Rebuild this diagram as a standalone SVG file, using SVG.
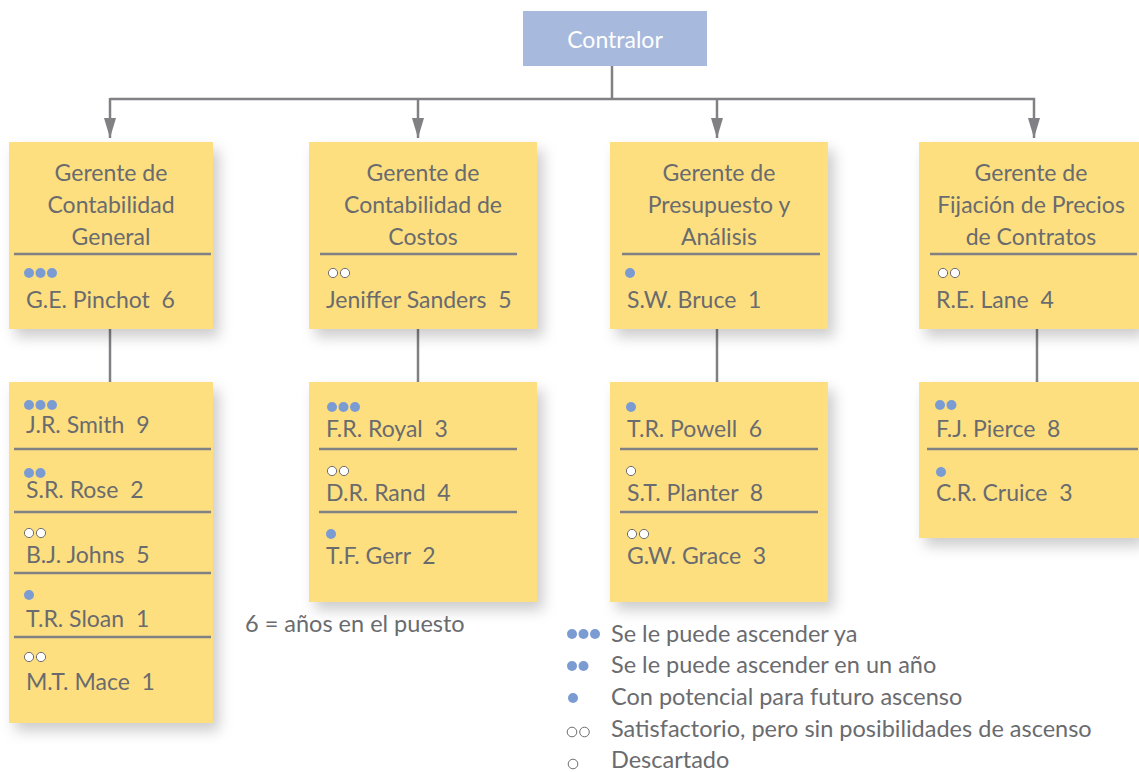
<svg xmlns="http://www.w3.org/2000/svg" width="1139" height="772" viewBox="0 0 1139 772">
<defs>
<filter id="sh" x="-20%" y="-20%" width="150%" height="150%">
<feDropShadow dx="6" dy="8" stdDeviation="7" flood-color="#000" flood-opacity="0.2"/>
</filter>
<marker id="ar" viewBox="0 0 20 12" refX="20" refY="6" markerWidth="20" markerHeight="12" markerUnits="userSpaceOnUse" orient="auto">
<path d="M0,0 L20,6 L0,12 Z" fill="#808085"/>
</marker>
<circle id="b" r="5" fill="#7b9bd3"/>
<circle id="w" r="4.6" fill="#fff" stroke="#6d6e71" stroke-width="1"/>
<circle id="lb" r="5" fill="#7b9bd3"/>
<circle id="lw" r="4.8" fill="#fff" stroke="#6d6e71" stroke-width="1"/>
</defs>
<style>
.box{fill:#fddf80;filter:url(#sh)}
.sep{stroke:#808085;stroke-width:2.5}
.con{stroke:#808085;stroke-width:2.5;fill:none}
.t{font-family:Lato,"Noto Sans",sans-serif;font-size:23px;fill:#6a6b6e;text-anchor:middle}
.n{font-family:Lato,"Noto Sans",sans-serif;font-size:23px;fill:#6a6b6e;white-space:pre}
.lg{font-family:Lato,"Noto Sans",sans-serif;font-size:23.5px;fill:#6a6b6e}
</style>
<rect width="1139" height="772" fill="#fff"/>
<g id="connectors">
<line class="con" x1="612" y1="66" x2="612" y2="99"/>
<line class="con" x1="110" y1="99" x2="1035" y2="99"/>
<line class="con" x1="110" y1="98" x2="110" y2="138" marker-end="url(#ar)"/>
<line class="con" x1="418" y1="98" x2="418" y2="138" marker-end="url(#ar)"/>
<line class="con" x1="717" y1="98" x2="717" y2="138" marker-end="url(#ar)"/>
<line class="con" x1="1034" y1="98" x2="1034" y2="138" marker-end="url(#ar)"/>
<line class="con" x1="110" y1="329" x2="110" y2="382"/>
<line class="con" x1="418" y1="329" x2="418" y2="382"/>
<line class="con" x1="717" y1="329" x2="717" y2="382"/>
<line class="con" x1="1037" y1="329" x2="1037" y2="382"/>
</g>
<g id="contralor">
<rect x="523" y="11" width="184" height="55" fill="#a7b9dd"/>
<text x="615" y="48" font-family="Lato,'Noto Sans',sans-serif" font-size="23" fill="#fff" text-anchor="middle">Contralor</text>
</g>
<g id="m1">
<rect class="box" x="9" y="142" width="204" height="187"/>
<text class="t" x="111" y="181">Gerente de</text>
<text class="t" x="111" y="213">Contabilidad</text>
<text class="t" x="111" y="245">General</text>
<line class="sep" x1="14" y1="254" x2="211" y2="254"/>
<use href="#b" x="29" y="273"/><use href="#b" x="40.5" y="273"/><use href="#b" x="52" y="273"/>
<text class="n" x="26" y="308" xml:space="preserve">G.E. Pinchot  6</text>
</g>
<g id="m2">
<rect class="box" x="309" y="142" width="228" height="187"/>
<text class="t" x="423" y="181">Gerente de</text>
<text class="t" x="423" y="213">Contabilidad de</text>
<text class="t" x="423" y="245">Costos</text>
<line class="sep" x1="320" y1="254" x2="517" y2="254"/>
<use href="#w" x="333" y="273"/><use href="#w" x="345" y="273"/>
<text class="n" x="326" y="308" xml:space="preserve">Jeniffer Sanders  5</text>
</g>
<g id="m3">
<rect class="box" x="610" y="142" width="218" height="187"/>
<text class="t" x="719" y="181">Gerente de</text>
<text class="t" x="719" y="213">Presupuesto y</text>
<text class="t" x="719" y="245">Análisis</text>
<line class="sep" x1="622" y1="254" x2="820" y2="254"/>
<use href="#b" x="630" y="273"/>
<text class="n" x="627" y="308" xml:space="preserve">S.W. Bruce  1</text>
</g>
<g id="m4">
<rect class="box" x="919" y="142" width="220" height="187"/>
<text class="t" x="1031" y="181">Gerente de</text>
<text class="t" x="1031" y="213">Fijación de Precios</text>
<text class="t" x="1031" y="245">de Contratos</text>
<line class="sep" x1="930" y1="254" x2="1137" y2="254"/>
<use href="#w" x="943" y="273"/><use href="#w" x="955" y="273"/>
<text class="n" x="936" y="308" xml:space="preserve">R.E. Lane  4</text>
</g>
<g id="s1">
<rect class="box" x="9" y="382" width="204" height="341"/>
<use href="#b" x="29" y="405"/><use href="#b" x="40.5" y="405"/><use href="#b" x="52" y="405"/>
<text class="n" x="26" y="433" xml:space="preserve">J.R. Smith  9</text>
<line class="sep" x1="14" y1="449" x2="211" y2="449"/>
<use href="#b" x="29" y="473"/><use href="#b" x="40.5" y="473"/>
<text class="n" x="26" y="498" xml:space="preserve">S.R. Rose  2</text>
<line class="sep" x1="14" y1="512" x2="211" y2="512"/>
<use href="#w" x="29" y="533"/><use href="#w" x="41" y="533"/>
<text class="n" x="26" y="563" xml:space="preserve">B.J. Johns  5</text>
<line class="sep" x1="14" y1="573" x2="211" y2="573"/>
<use href="#b" x="29" y="595"/>
<text class="n" x="26" y="627" xml:space="preserve">T.R. Sloan  1</text>
<line class="sep" x1="14" y1="637" x2="211" y2="637"/>
<use href="#w" x="29" y="657"/><use href="#w" x="41" y="657"/>
<text class="n" x="26" y="690" xml:space="preserve">M.T. Mace  1</text>
</g>
<g id="s2">
<rect class="box" x="309" y="382" width="228" height="220"/>
<use href="#b" x="332" y="407"/><use href="#b" x="343.5" y="407"/><use href="#b" x="355" y="407"/>
<text class="n" x="326" y="437" xml:space="preserve">F.R. Royal  3</text>
<line class="sep" x1="319" y1="449" x2="517" y2="449"/>
<use href="#w" x="332" y="471"/><use href="#w" x="344" y="471"/>
<text class="n" x="326" y="501" xml:space="preserve">D.R. Rand  4</text>
<line class="sep" x1="319" y1="512" x2="517" y2="512"/>
<use href="#b" x="331" y="534"/>
<text class="n" x="326" y="564" xml:space="preserve">T.F. Gerr  2</text>
</g>
<g id="s3">
<rect class="box" x="610" y="382" width="218" height="220"/>
<use href="#b" x="631" y="407"/>
<text class="n" x="627" y="437" xml:space="preserve">T.R. Powell  6</text>
<line class="sep" x1="620" y1="449" x2="818" y2="449"/>
<use href="#w" x="631" y="471"/>
<text class="n" x="627" y="501" xml:space="preserve">S.T. Planter  8</text>
<line class="sep" x1="620" y1="512" x2="818" y2="512"/>
<use href="#w" x="632" y="534"/><use href="#w" x="644" y="534"/>
<text class="n" x="627" y="564" xml:space="preserve">G.W. Grace  3</text>
</g>
<g id="s4">
<rect class="box" x="919" y="382" width="220" height="156"/>
<use href="#b" x="940" y="405"/><use href="#b" x="951.5" y="405"/>
<text class="n" x="936" y="437" xml:space="preserve">F.J. Pierce  8</text>
<line class="sep" x1="927" y1="449" x2="1138" y2="449"/>
<use href="#b" x="941" y="472"/>
<text class="n" x="936" y="501" xml:space="preserve">C.R. Cruice  3</text>
</g>
<g id="legend">
<text class="lg" x="245" y="632">6 = años en el puesto</text>
<use href="#lb" x="572" y="634"/><use href="#lb" x="583.5" y="634"/><use href="#lb" x="595" y="634"/>
<text class="lg" x="611" y="642">Se le puede ascender ya</text>
<use href="#lb" x="572" y="666"/><use href="#lb" x="583.5" y="666"/>
<text class="lg" x="611" y="673">Se le puede ascender en un año</text>
<use href="#lb" x="573" y="698"/>
<text class="lg" x="611" y="705">Con potencial para futuro ascenso</text>
<use href="#lw" x="572" y="732"/><use href="#lw" x="584.5" y="732"/>
<text class="lg" x="611" y="737">Satisfactorio, pero sin posibilidades de ascenso</text>
<use href="#lw" x="573" y="764"/>
<text class="lg" x="611" y="768">Descartado</text>
</g>
</svg>
